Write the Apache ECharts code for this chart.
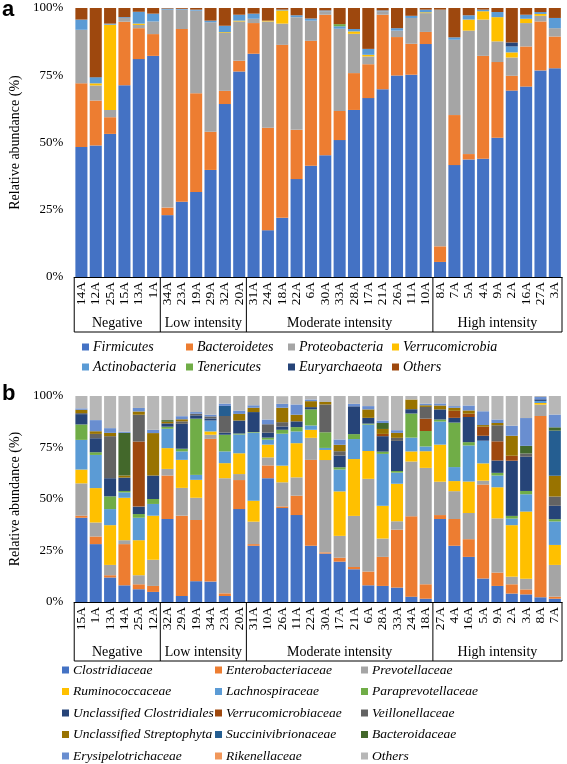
<!DOCTYPE html>
<html>
<head>
<meta charset="utf-8">
<script src="https://cdn.jsdelivr.net/npm/echarts@6/dist/echarts.min.js"></script>
<style>html,body{margin:0;padding:0;background:#fff;}#c{width:567px;height:764px;}</style>
</head>
<body>
<div id="c"></div>
<script>
// ---------- Panel a (phylum) ----------
const catsA = ['14A','12A','25A','15A','13A','1A','34A','23A','19A','29A','32A','20A','31A','24A','18A','22A','6A','30A','33A','28A','17A','21A','26A','11A','10A','8A','7A','5A','4A','9A','2A','16A','27A','3A'];
const groupNames = ['Negative','Low intensity','Moderate intensity','High intensity'];
const groupSizes = [6, 6, 13, 9];

const firmicutes = [48.3,48.9,53.2,71.3,81.0,82.2,23.0,28.0,31.6,39.8,64.3,76.4,83.0,17.4,22.0,36.4,41.4,45.3,50.9,62.1,66.5,69.8,74.9,75.2,86.6,5.6,41.6,43.7,44.0,51.8,69.3,70.8,76.8,77.6];
const bacteroidetes = [23.7,16.7,6.2,23.6,11.5,8.1,2.8,64.2,36.7,14.2,4.9,4.0,11.4,38.1,64.3,18.3,46.4,52.2,10.8,13.7,12.6,27.7,14.3,11.5,4.5,5.8,18.6,2.0,38.2,28.1,5.5,14.9,18.2,11.8];
const proteobacteria = [19.9,5.6,2.7,1.4,1.2,4.7,73.6,7.2,30.7,40.7,21.5,14.6,1.6,39.5,7.9,41.9,7.5,1.3,30.6,14.6,2.9,1.3,2.4,9.6,7.0,88.0,28.0,45.9,13.5,7.7,6.8,8.7,2.1,3.1];
const verrucomicrobia = [0,0.8,31.7,0,0.5,0,0,0,0,0,0.3,0.3,0,0.3,4.9,0,0,0,0,0.9,0.6,0,0,0,0.3,0,0,4.1,3.1,9.0,1.9,1.6,0.7,0];
const actinobacteria = [3.8,2.3,0.4,0.3,4.4,2.9,0.4,0.3,0.4,0.6,2.4,2.2,1.9,0,0.3,0.7,0.8,0.3,0.9,0.9,2.2,0.3,0.9,0.8,1.0,0,0.9,1.6,0.6,1.9,2.2,1.5,0.7,3.8];
const tenericutes = [0,0,0,0,0,0,0,0,0,0,0,0,0,0,0,0,0,0,0.8,0,0,0,0,0,0,0,0,0,0,0,0,0,0,0];
const euryarchaeota = [0,0,0,0,0,0,0,0,0,0,0,0,0,0,0,0,0,0,0,0,0,0,0,0,0,0,0,0,0,0,1.5,0,0,0];
const othersA = [4.3,25.7,5.8,3.4,1.4,2.1,0.2,0.3,0.6,4.7,6.6,2.5,2.1,4.7,0.6,2.7,3.9,0.9,6.0,7.8,15.2,0.9,7.5,2.9,0.6,0.6,10.9,2.7,0.6,1.5,12.8,2.5,1.5,3.7];

const namesA = ['Firmicutes','Bacteroidetes','Proteobacteria','Verrucomicrobia','Actinobacteria','Tenericutes','Euryarchaeota','Others'];
const valuesA = [firmicutes,bacteroidetes,proteobacteria,verrucomicrobia,actinobacteria,tenericutes,euryarchaeota,othersA];
const colorsA = ['#4472C4','#ED7D31','#A5A5A5','#FFC000','#5B9BD5','#70AD47','#264478','#9E480E'];

// ---------- Panel b (family) ----------
const catsB = ['15A','1A','13A','14A','25A','12A','32A','29A','19A','34A','23A','20A','31A','10A','26A','11A','22A','30A','17A','21A','6A','28A','33A','24A','18A','27A','4A','16A','5A','9A','2A','3A','8A','7A'];

const clostridiaceae = [40.9,28.1,11.9,8.1,6.2,4.9,40.3,2.9,10.1,9.9,2.9,45.1,27.3,60.1,45.6,42.2,27.3,23.5,19.6,15.9,8.1,7.8,7.0,2.6,1.6,40.3,27.3,21.9,11.4,7.8,4.1,3.7,2.3,1.6];
const enterobacteriaceae = [1.0,3.7,1.1,20.0,2.4,2.9,21.1,39.0,29.7,69.3,1.3,14.1,0.8,6.2,0.8,9.4,41.7,0.6,1.9,1.1,6.7,14.1,28.1,39.0,7.0,1.9,13.0,8.6,45.6,6.5,4.5,2.4,88.0,1.0];
const prevotellaceae = [15.7,6.8,5.0,1.9,4.4,12.7,3.2,13.5,10.8,2.0,55.9,2.9,10.9,3.9,11.7,8.9,10.7,44.8,10.6,24.8,45.0,8.9,4.1,26.6,56.5,16.2,13.5,12.7,1.9,26.3,3.7,5.2,5.5,15.4];
const ruminococcaceae = [6.7,16.7,19.3,20.6,17.0,21.4,10.1,13.6,8.7,1.6,7.3,10.1,10.2,6.2,8.1,16.6,3.9,4.9,21.6,27.6,13.5,15.9,18.2,4.9,8.1,18.0,4.9,15.3,8.4,15.1,25.0,32.6,0.8,9.7];
const lachnospiraceae = [14.4,16.1,7.8,2.6,10.9,5.7,9.4,4.1,2.4,5.3,5.7,9.1,33.0,2.4,15.5,5.7,2.1,1.0,10.6,9.7,12.8,25.2,5.4,6.7,2.3,11.2,6.8,17.5,11.0,5.7,3.2,8.4,1.0,11.4];
const paraprevotellaceae = [7.5,1.3,6.2,0.7,1.8,2.4,1.0,1.3,27.3,0,8.1,0.5,0.3,1.0,1.9,2.1,7.8,7.6,1.1,2.4,0.5,1.1,0.8,11.7,7.5,1.0,21.6,1.6,0,1.3,1.3,1.6,0,1.1];
const unclClostridiales = [5.0,6.8,8.8,6.5,3.6,11.4,1.6,12.1,1.6,1.0,1.0,6.3,9.7,2.4,1.6,2.8,1.1,0,5.7,13.5,2.8,7.5,14.6,2.1,0,4.9,2.3,12.2,2.4,6.0,26.8,16.6,0.8,6.5];
const verrucomicrobiaceae = [0,0,0,0,31.6,0,0,0,0,0,0,0,0,0,0,0,0,0,0,0,0,1.1,0,0,6.0,0,3.4,1.6,4.4,9.3,2.4,0,0,0];
const veillonellaceae = [0.5,2.1,20.4,0,13.0,0,0,1.2,0.8,1.0,8.1,0,0,4.1,2.1,0,0,13.5,2.1,0,0,0,1.5,0,5.7,0,0,0,0,7.8,0,1.6,0,4.5];
const unclStreptophyta = [1.6,1.3,1.6,1.0,1.6,20.6,0.8,1.0,0,0,0,3.2,2.1,0,7.0,3.2,2.9,1.2,3.1,0,4.1,2.4,2.4,4.7,0.8,1.9,1.5,1.6,0.8,1.1,9.7,0,0,10.1];
const succinivibrionaceae = [0,0,0,0,0,0,0,0,0,0,4.9,0,0,0,0,0,0,0,0,0,0,0,0,0,0,0,0,0,0,0,0,0,0,21.9];
const bacteroidaceae = [0,0,0,20.7,0,0,0.8,0,0,0,0,0,0,0,0,0,0,0,0,0,0,2.9,0,0,0,0,0,0,0,0,0,3.7,0,1.6];
const erysipelotrichaceae = [0.7,5.4,2.3,0.6,1.7,1.6,0,1.5,0.8,0.8,1.1,1.6,1.2,2.3,1.9,5.0,0.8,0,2.6,1.2,1.6,1.2,1.3,0,0.8,1.0,0.8,2.4,6.7,1.7,4.9,13.5,1.1,6.2];
const rikenellaceae = [0,0,0,0,0,0,0,0,0,0,0,0,0,0,0,0,0,0,0,0,0,0,0,0,0,0,0,0,0,0,0,0,0,0];
const othersB = [6.0,11.7,15.6,17.3,5.8,16.4,11.7,9.8,7.8,9.1,3.7,7.1,4.5,11.4,3.7,4.1,1.7,2.9,21.1,3.8,4.9,11.9,16.6,1.7,3.7,3.6,4.9,4.6,7.4,11.4,14.4,10.7,0.5,9.0];

const namesB = ['Clostridiaceae','Enterobacteriaceae','Prevotellaceae','Ruminococcaceae','Lachnospiraceae','Paraprevotellaceae','Unclassified Clostridiales','Verrucomicrobiaceae','Veillonellaceae','Unclassified Streptophyta','Succinivibrionaceae','Bacteroidaceae','Erysipelotrichaceae','Rikenellaceae','Others'];
const valuesB = [clostridiaceae,enterobacteriaceae,prevotellaceae,ruminococcaceae,lachnospiraceae,paraprevotellaceae,unclClostridiales,verrucomicrobiaceae,veillonellaceae,unclStreptophyta,succinivibrionaceae,bacteroidaceae,erysipelotrichaceae,rikenellaceae,othersB];
const colorsB = ['#4472C4','#ED7D31','#A5A5A5','#FFC000','#5B9BD5','#70AD47','#264478','#9E480E','#636363','#997300','#255E91','#43682B','#698ED0','#F1975A','#B7B7B7'];

const yTicks = [0,25,50,75,100];

const serif = 'Liberation Serif';
const chart = echarts.init(document.getElementById('c'), null, {renderer:'canvas'});

function xAxisFor(cats, gi){
  return {
    type:'category', gridIndex:gi, data:cats,
    axisLine:{show:true, lineStyle:{color:'#000', width:1}},
    axisTick:{show:false},
    axisLabel:{interval:0, rotate:90, fontFamily:serif, fontSize:13.5, color:'#000', margin:5}
  };
}
function yAxisFor(gi){
  return {
    type:'value', gridIndex:gi, min:yTicks[0], max:yTicks[yTicks.length-1], interval:25,
    axisLine:{show:false}, axisTick:{show:false}, splitLine:{show:false},
    axisLabel:{formatter:'{value}%', fontFamily:serif, fontSize:13, color:'#000', margin:11},
    name:'Relative abundance (%)', nameLocation:'middle', nameRotate:90, nameGap:44,
    nameTextStyle:{fontFamily:serif, fontSize:14, color:'#000'}
  };
}

const series = [];
namesA.forEach((n,i)=>{
  series.push({name:n, type:'bar', stack:'a', xAxisIndex:0, yAxisIndex:0, data:valuesA[i],
    itemStyle:{color:colorsA[i]}, barCategoryGap:'16%'});
});
namesB.forEach((n,i)=>{
  series.push({name:n + ' ', type:'bar', stack:'b', xAxisIndex:1, yAxisIndex:1, data:valuesB[i],
    itemStyle:{color:colorsB[i]}, barCategoryGap:'16%'});
});

function legendCol(names, colors, left, top, gap, fs){
  return {
    orient:'vertical', left:left, top:top, height:300, itemGap:gap, itemWidth:7, itemHeight:7, icon:'rect',
    selectedMode:false, padding:0, itemStyle:{borderWidth:0},
    data:names.map((n,i)=>({name:n, itemStyle:{color:colors[i]}})),
    textStyle:{fontFamily:serif, fontStyle:'italic', fontSize:fs, color:'#000', padding:[0,0,0,-1]}
  };
}
const legends = [];
const colXA = [82, 186, 288, 392];
for(let c=0;c<4;c++){
  legends.push(legendCol([namesA[c], namesA[c+4]], [colorsA[c], colorsA[c+4]], colXA[c], 340, 6, 14));
}
const colXB = [62, 215, 361];
for(let c=0;c<3;c++){
  const nm=[], cl=[];
  for(let r=0;r<5;r++){ nm.push(namesB[r*3+c] + ' '); cl.push(colorsB[r*3+c]); }
  legends.push(legendCol(nm, cl, colXB[c], 663, 7.5, 13.5));
}

chart.setOption({
  animation:false,
  backgroundColor:'#fff',
  grid:[
    {left:62, width:500, top:8, height:269},
    {left:62, width:500, top:396, height:206}
  ],
  xAxis:[xAxisFor(catsA,0), xAxisFor(catsB,1)],
  yAxis:[yAxisFor(0), yAxisFor(1)],
  legend:legends,
  series:series
});

// bracket boxes and group labels, positioned from the axis scales
function bracket(gi, cats, depth, labelOffset){
  const els = [];
  const x0 = chart.convertToPixel({xAxisIndex:gi}, cats[0]);
  const x1 = chart.convertToPixel({xAxisIndex:gi}, cats[1]);
  const bw = x1 - x0;
  const edge = i => x0 - bw/2 + i*bw;
  const yb = chart.convertToPixel({yAxisIndex:gi}, 0);
  const n = cats.length;
  els.push({type:'line', shape:{x1:edge(0), y1:yb+depth, x2:edge(n), y2:yb+depth}, style:{stroke:'#000', lineWidth:1}});
  let start = 0;
  const bounds=[0];
  groupSizes.forEach(s=>{ start+=s; bounds.push(start); });
  bounds.forEach(b=>{
    els.push({type:'line', shape:{x1:edge(b), y1:yb, x2:edge(b), y2:yb+depth}, style:{stroke:'#000', lineWidth:1}});
  });
  for(let g=0; g<groupSizes.length; g++){
    const cx = (edge(bounds[g]) + edge(bounds[g+1]))/2;
    els.push({type:'text', x:cx, y:yb+labelOffset, style:{text:groupNames[g], fill:'#000', font:'14px "Liberation Serif"', align:'center', verticalAlign:'middle'}});
  }
  return els;
}

const graphics = [].concat(bracket(0, catsA, 55, 46), bracket(1, catsB, 59, 50));
graphics.push({type:'text', x:2, y:-1, style:{text:'a', fill:'#000', font:'bold 22px "Liberation Sans"'}});
graphics.push({type:'text', x:2, y:383, style:{text:'b', fill:'#000', font:'bold 22px "Liberation Sans"'}});
chart.setOption({graphic:graphics});
</script>
</body>
</html>
